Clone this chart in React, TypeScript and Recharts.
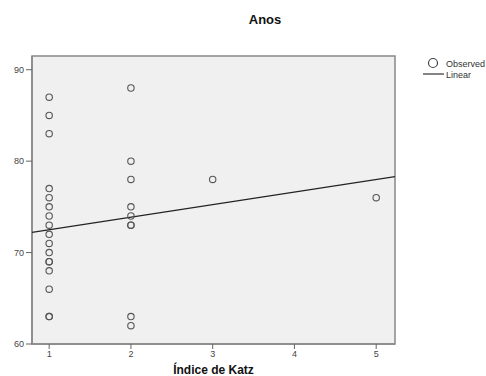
import {
  ComposedChart,
  Scatter,
  XAxis,
  YAxis,
  ReferenceArea,
} from 'recharts';

// Índice de Katz (x) and age in years (y), one entry per observation
const katzIndex = [
  1, 1, 1, 1, 1, 1, 1, 1, 1, 1, 1, 1, 1, 1, 1, 1, 1,
  2, 2, 2, 2, 2, 2, 2, 2, 2,
  3,
  5,
];
const ages = [
  87, 85, 83, 77, 76, 75, 74, 73, 72, 71, 70, 69, 69, 68, 66, 63, 63,
  88, 80, 78, 75, 74, 73, 73, 63, 62,
  78,
  76,
];

// linear fit line, read at the edges of the plot
const fitX = [0.79, 5.23];
const fitY = [72.2, 78.3];

const xTicks = [1, 2, 3, 4, 5];
const yTicks = [60, 70, 80, 90];

const observed = katzIndex.map((k, i) => ({ x: k, y: ages[i] }));
const linear = fitX.map((x, i) => ({ x, y: fitY[i] }));

const font = '"Liberation Sans", Arial, sans-serif';

function LegendBox() {
  return (
    <svg width={66} height={30} style={{ overflow: 'visible', display: 'block' }}>
      <circle cx={13} cy={7} r={4.5} fill="none" stroke="#444" strokeWidth={1.2} />
      <text x={26} y={10.5} fontSize={9} fill="#333" fontFamily={font}>
        Observed
      </text>
      <line x1={3} x2={24} y1={18} y2={18} stroke="#333" strokeWidth={1.2} />
      <text x={26} y={21.5} fontSize={9} fill="#333" fontFamily={font}>
        Linear
      </text>
    </svg>
  );
}

export default function App() {
  return (
    <div
      style={{
        position: 'absolute',
        left: 0,
        top: 0,
        width: 486,
        height: 376,
        background: '#fff',
        fontFamily: font,
        overflow: 'hidden',
      }}
    >
      <div
        style={{
          position: 'absolute',
          left: 215,
          width: 100,
          top: 12,
          textAlign: 'center',
          fontSize: 13,
          fontWeight: 'bold',
          color: '#111',
        }}
      >
        Anos
      </div>
      <div style={{ position: 'absolute', left: 420, top: 56 }}>
        <LegendBox />
      </div>
      <ComposedChart
        width={486}
        height={376}
        margin={{ top: 56, right: 91, bottom: 0, left: 0 }}
      >
        <ReferenceArea
          x1={0.79}
          x2={5.23}
          y1={60}
          y2={91.5}
          fill="#f0f0f0"
          fillOpacity={1}
          stroke="#888"
          strokeWidth={1.5}
        />
        <XAxis
          type="number"
          dataKey="x"
          domain={[0.79, 5.23]}
          ticks={xTicks}
          allowDataOverflow
          height={32}
          tickSize={5}
          axisLine={{ stroke: '#888', strokeWidth: 1.5 }}
          tickLine={{ stroke: '#666' }}
          tick={{ fontSize: 9, fill: '#444', fontFamily: font }}
          label={{
            value: 'Índice de Katz',
            position: 'insideBottom',
            offset: 2,
            fontSize: 12,
            fontWeight: 'bold',
            fill: '#111',
            fontFamily: font,
          }}
        />
        <YAxis
          type="number"
          dataKey="y"
          domain={[60, 91.5]}
          ticks={yTicks}
          allowDataOverflow
          width={32}
          tickSize={6}
          axisLine={{ stroke: '#888', strokeWidth: 1.5 }}
          tickLine={{ stroke: '#666' }}
          tick={{ fontSize: 9, fill: '#444', fontFamily: font }}
        />
        <Scatter
          name="Linear"
          data={linear}
          line={{ stroke: '#222', strokeWidth: 1.2 }}
          shape={() => <g />}
          isAnimationActive={false}
        />
        <Scatter
          name="Observed"
          data={observed}
          shape={(p: any) => (
            <circle
              cx={p.cx}
              cy={p.cy}
              r={3.2}
              fill="none"
              stroke="#555"
              strokeWidth={1.1}
            />
          )}
          isAnimationActive={false}
        />
      </ComposedChart>
    </div>
  );
}
